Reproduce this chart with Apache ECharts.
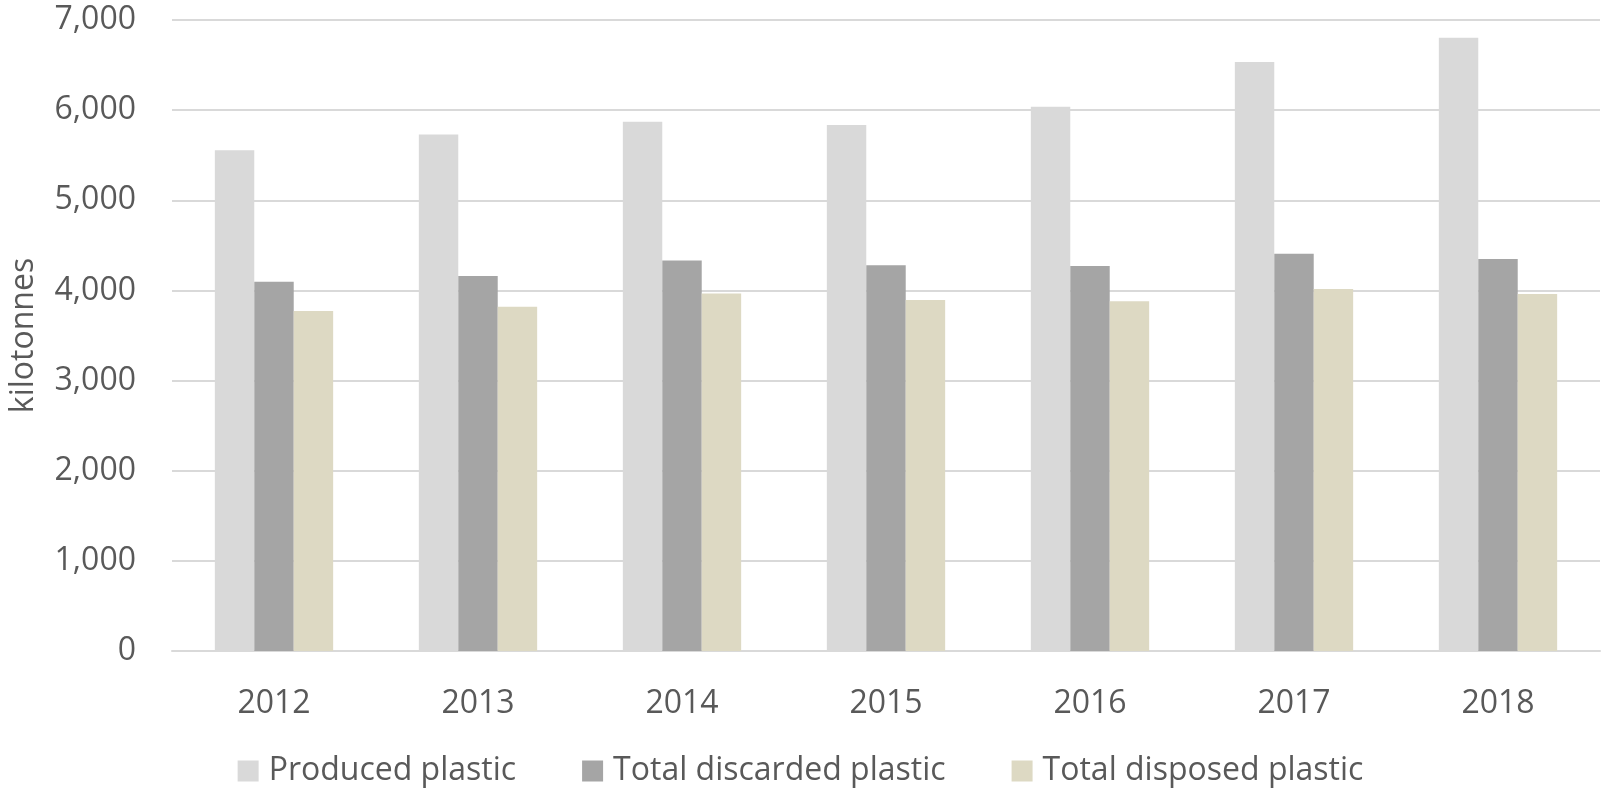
<!DOCTYPE html>
<html>
<head>
<meta charset="utf-8">
<script src="https://cdn.jsdelivr.net/npm/echarts@6/dist/echarts.min.js"></script>
<style>
  html, body { margin: 0; padding: 0; background: #fff; }
  #main { width: 1601px; height: 794px; }
</style>
</head>
<body>
<div id="main"></div>
<script>
var years = ['2012', '2013', '2014', '2015', '2016', '2017', '2018']
var produced = [5556, 5731, 5871, 5834, 6037, 6533, 6802]
var discarded = [4097, 4159, 4333, 4278, 4270, 4407, 4348]
var disposed = [3771, 3819, 3967, 3893, 3879, 4015, 3960]

var textColor = '#595959'
var fontFamily = 'Open Sans'

var chart = echarts.init(document.getElementById('main'))

function barSeries(name, data, color) {
  return {
    name: name,
    type: 'bar',
    data: data,
    barGap: '0%',
    barCategoryGap: '42%',
    itemStyle: {
      color: color,
    },
  }
}

var option = {
  animation: false,
  textStyle: {
    fontFamily: fontFamily,
    color: textColor,
  },
  grid: {
    left: 172,
    right: 1,
    top: 20,
    bottom: 143,
    containLabel: false,
    outerBoundsMode: 'none',
  },
  legend: {
    left: 'center',
    top: 750,
    icon: 'rect',
    itemWidth: 21,
    itemHeight: 21,
    itemGap: 66,
    textStyle: {
      fontSize: 32,
      color: textColor,
      fontFamily: fontFamily,
      padding: [0, 0, 0, 5],
    },
    data: ['Produced plastic', 'Total discarded plastic', 'Total disposed plastic'],
  },
  xAxis: {
    type: 'category',
    data: years,
    axisTick: { show: false },
    axisLine: {
      lineStyle: { color: '#d9d9d9', width: 2 },
    },
    axisLabel: {
      margin: 37,
      fontSize: 32,
      color: textColor,
      fontFamily: fontFamily,
    },
  },
  yAxis: {
    type: 'value',
    min: 0,
    max: 7000,
    interval: 1000,
    name: 'kilotonnes',
    nameLocation: 'middle',
    nameRotate: 90,
    nameGap: 132,
    nameTextStyle: {
      fontSize: 32,
      color: textColor,
      fontFamily: fontFamily,
    },
    axisLine: { show: false },
    axisTick: { show: false },
    axisLabel: {
      margin: 36,
      fontSize: 32,
      color: textColor,
      fontFamily: fontFamily,
      formatter: function (v) {
        return v.toLocaleString('en-US')
      },
    },
    splitLine: {
      lineStyle: { color: '#d9d9d9', width: 2 },
    },
  },
  series: [
    barSeries('Produced plastic', produced, '#d9d9d9'),
    barSeries('Total discarded plastic', discarded, '#a5a5a5'),
    barSeries('Total disposed plastic', disposed, '#ddd9c3'),
  ],
}

chart.setOption(option)
</script>
</body>
</html>
